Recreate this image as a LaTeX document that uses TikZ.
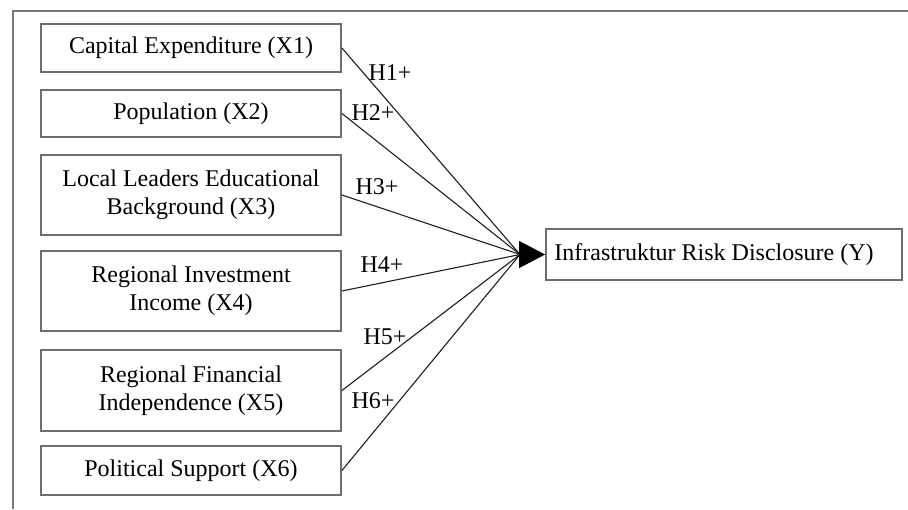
\documentclass[tikz,border=0pt]{standalone}
\usepackage{fontspec}
\setmainfont{Liberation Serif}
\usetikzlibrary{arrows.meta}
\definecolor{framegray}{RGB}{120,120,120}
\definecolor{boxgray}{RGB}{110,110,110}
\definecolor{linegray}{RGB}{30,30,30}
\begin{document}
\begin{tikzpicture}[x=0.5pt,y=-0.5pt,
  varbox/.style={draw=boxgray,line width=0.9pt,minimum width=150pt,align=center,inner sep=0pt,font=\fontsize{12}{14}\selectfont},
  hlabel/.style={inner sep=0pt,font=\fontsize{12}{14}\selectfont},
  link/.style={draw=linegray,line width=0.55pt}]
\useasboundingbox (0,0) rectangle (908,509);
\draw[framegray,line width=1pt] (908,11) -- (13,11) -- (13,509);
\node[varbox,minimum height=24pt] (x1) at (191,48) {Capital Expenditure (X1)};
\node[varbox,minimum height=23.5pt] (x2) at (191,113.5) {Population (X2)};
\node[varbox,minimum height=40pt] (x3) at (191,195) {Local Leaders Educational\\Background (X3)};
\node[varbox,minimum height=40pt] (x4) at (191,291) {Regional Investment\\Income (X4)};
\node[varbox,minimum height=40.5pt] (x5) at (191,390.5) {Regional Financial\\Independence (X5)};
\node[varbox,minimum height=24.5pt] (x6) at (191,470.5) {Political Support (X6)};
\node[draw=boxgray,line width=0.9pt,minimum width=178pt,minimum height=25.5pt,inner sep=0pt,
  font=\fontsize{12}{14}\selectfont] (y) at (724,254.5) {\hspace*{-10pt}Infrastruktur Risk Disclosure (Y)};
\coordinate (c) at (520,254.5);
\draw[link] (x1.east) -- (c);
\draw[link] (x2.east) -- (c);
\draw[link] (x3.east) -- (c);
\draw[link] (x4.east) -- (c);
\draw[link] (x5.east) -- (c);
\draw[link] (x6.east) -- (c);
\draw[draw=black,line width=0.55pt,-{Triangle[length=13pt,width=13.5pt,fill=black]}] (c) -- (y.west);
\node[hlabel] (h1) at (390,73) {H1+};
\node[hlabel] (h2) at (373,113) {H2+};
\node[hlabel] (h3) at (377,187) {H3+};
\node[hlabel] (h4) at (382,265) {H4+};
\node[hlabel] (h5) at (385,337) {H5+};
\node[hlabel] (h6) at (373,401) {H6+};
\end{tikzpicture}
\end{document}
